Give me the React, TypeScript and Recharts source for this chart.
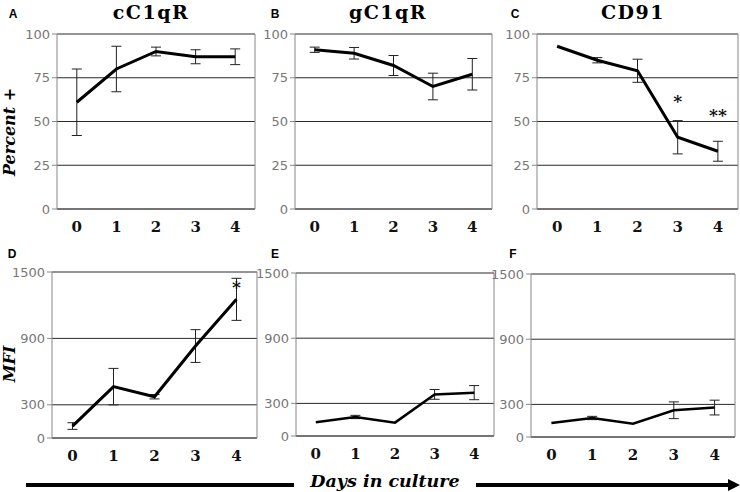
import { CartesianGrid, ErrorBar, LabelList, Line, LineChart, XAxis, YAxis } from "recharts";

const days = ["0", "1", "2", "3", "4"];

// percent positive (top row)
const cC1qRPct = [61, 80, 90, 87, 87];
const cC1qRPctErr = [19, 13, 2.5, 4, 4.5];
const gC1qRPct = [91, 89, 82, 70, 77];
const gC1qRPctErr = [1.5, 3.3, 5.7, 7.6, 9];
const cd91Pct = [93, 85, 79, 41, 33];
const cd91PctErr = [0, 1.5, 6.6, 9.5, 5.7];
const cd91Stars = ["", "", "", "*", "**"];
const cd91StarY = [null, null, null, 64, 56];

// MFI (bottom row)
const cC1qRMfi = [108, 464, 373, 831, 1253];
const cC1qRMfiErr = [30, 165, 20, 148, 190];
const cC1qRMfiStars = ["", "", "", "", "*"];
const cC1qRMfiStarY = [null, null, null, null, 1400];
const gC1qRMfi = [126, 175, 123, 383, 399];
const gC1qRMfiErr = [0, 15, 0, 45, 65];
const cd91Mfi = [129, 175, 123, 246, 271];
const cd91MfiErr = [0, 15, 0, 77, 68];

const pctTicks = [0, 25, 50, 75, 100];
const mfiTicks = [0, 300, 900, 1500];

const SERIF = "'DejaVu Serif', serif";
const SANS = "'DejaVu Sans', sans-serif";

type Row = { day: string; v: number; err: number; star?: string; starY?: number | null };

function rows(vals: number[], errs: number[], stars?: string[], starY?: (number | null)[]): Row[] {
  return days.map((d, i) => ({
    day: d,
    v: vals[i],
    err: errs[i],
    star: stars ? stars[i] : "",
    starY: starY ? starY[i] : null,
  }));
}

const YW = 50;
const TOP = 10;
const XH = 26;

function Panel({
  data,
  x,
  y,
  w,
  h,
  ticks,
  lineWidth = 3,
}: {
  data: Row[];
  x: number;
  y: number;
  w: number;
  h: number;
  ticks: number[];
  lineWidth?: number;
}) {
  const max = ticks[ticks.length - 1];
  const pad = w / 10;
  return (
    <div style={{ position: "absolute", left: x - YW, top: y - TOP }}>
      <LineChart
        width={YW + w + 1}
        height={TOP + h + XH}
        data={data}
        margin={{ top: TOP, right: 0, left: 0, bottom: 0 }}
      >
        <CartesianGrid vertical={false} stroke="#2a2a2a" />
        <XAxis
          dataKey="day"
          height={XH}
          padding={{ left: pad, right: pad }}
          tickLine={false}
          axisLine={{ stroke: "#555" }}
          tick={{ fontSize: 15, fontWeight: "bold", fontFamily: SERIF, fill: "#111" }}
          tickMargin={6}
        />
        <YAxis
          width={YW}
          domain={[0, max]}
          ticks={ticks}
          interval={0}
          tickSize={5}
          axisLine={{ stroke: "#888" }}
          tickLine={{ stroke: "#888" }}
          tick={{ fontSize: 13, fontFamily: SANS, fill: "#777" }}
        />
        <YAxis
          yAxisId="r"
          orientation="right"
          width={1}
          domain={[0, max]}
          tick={false}
          tickLine={false}
          axisLine={{ stroke: "#888" }}
        />
        <Line dataKey="v" stroke="#000" strokeWidth={lineWidth} dot={false} isAnimationActive={false}>
          <ErrorBar dataKey="err" width={5} stroke="#222" strokeWidth={1} />
        </Line>
        <Line dataKey="starY" stroke="none" dot={false} isAnimationActive={false}>
          <LabelList
            dataKey="star"
            content={(p: any) =>
              p.value ? (
                <text
                  x={p.x}
                  y={p.y + 10}
                  textAnchor="middle"
                  fontFamily={SERIF}
                  fontWeight="bold"
                  fontSize={17}
                  fill="#111"
                >
                  {p.value}
                </text>
              ) : null
            }
          />
        </Line>
      </LineChart>
    </div>
  );
}

export default function App() {
  const titleStyle = { fontFamily: SERIF, fontWeight: "bold" as const, fontSize: 19, letterSpacing: 1.5 };
  const letterStyle = { fontFamily: "'Liberation Sans', Arial, sans-serif", fontWeight: "bold" as const, fontSize: 12 };
  const axisLabel = { fontFamily: SERIF, fontWeight: "bold" as const, fontStyle: "italic" as const, fontSize: 16 };
  return (
    <div style={{ position: "absolute", left: 0, top: 0, width: 740, height: 492, background: "#fff" }}>
      <Panel data={rows(cC1qRPct, cC1qRPctErr)} x={57} y={34} w={198} h={175} ticks={pctTicks} />
      <Panel data={rows(gC1qRPct, gC1qRPctErr)} x={295} y={34} w={197} h={175} ticks={pctTicks} />
      <Panel data={rows(cd91Pct, cd91PctErr, cd91Stars, cd91StarY)} x={537} y={34} w={201} h={175} ticks={pctTicks} />
      <Panel
        data={rows(cC1qRMfi, cC1qRMfiErr, cC1qRMfiStars, cC1qRMfiStarY)}
        x={52}
        y={272}
        w={205}
        h={166}
        ticks={mfiTicks}
      />
      <Panel data={rows(gC1qRMfi, gC1qRMfiErr)} x={296} y={273} w={198} h={163} ticks={mfiTicks} lineWidth={2.5} />
      <Panel data={rows(cd91Mfi, cd91MfiErr)} x={531} y={274} w={204} h={163} ticks={mfiTicks} lineWidth={2.5} />
      <svg width={740} height={492} style={{ position: "absolute", left: 0, top: 0, pointerEvents: "none" }}>
        <text x={151} y={19} textAnchor="middle" {...titleStyle}>cC1qR</text>
        <text x={388} y={19} textAnchor="middle" {...titleStyle}>gC1qR</text>
        <text x={633} y={19} textAnchor="middle" {...titleStyle}>CD91</text>
        <text x={13} y={18} textAnchor="middle" {...letterStyle}>A</text>
        <text x={275} y={18} textAnchor="middle" {...letterStyle}>B</text>
        <text x={515} y={18} textAnchor="middle" {...letterStyle}>C</text>
        <text x={12} y={258} textAnchor="middle" {...letterStyle}>D</text>
        <text x={275} y={258} textAnchor="middle" {...letterStyle}>E</text>
        <text x={513} y={258} textAnchor="middle" {...letterStyle}>F</text>
        <text transform="translate(15,132) rotate(-90)" textAnchor="middle" {...axisLabel}>Percent +</text>
        <text transform="translate(15,364) rotate(-90)" textAnchor="middle" {...axisLabel}>MFI</text>
        <line x1={26} y1={485} x2={294} y2={485} stroke="#000" strokeWidth={4} />
        <text x={385} y={487} textAnchor="middle" {...axisLabel} fontSize={17.5}>Days in culture</text>
        <line x1={476} y1={485} x2={730} y2={485} stroke="#000" strokeWidth={4} />
        <polygon points="728,479 740,485 728,491" fill="#000" />
      </svg>
    </div>
  );
}
